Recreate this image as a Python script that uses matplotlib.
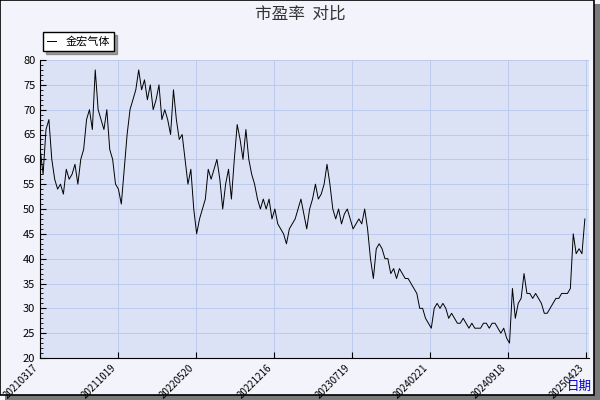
import matplotlib
matplotlib.use("Agg")
import matplotlib.pyplot as plt
from matplotlib.ticker import MultipleLocator
import numpy as np

plt.rcParams['font.family'] = ['Noto Sans CJK SC', 'DejaVu Sans']

pe_values = [62, 57, 66, 68, 60, 56, 54, 55, 53, 58, 56, 57, 59, 55, 60, 62, 68, 70, 66, 78,
             70, 68, 66, 70, 62, 60, 55, 54, 51, 58, 65, 70, 72, 74, 78, 74, 76, 72, 75, 70,
             72, 75, 68, 70, 68, 65, 74, 68, 64, 65, 60, 55, 58, 50, 45, 48, 50, 52, 58, 56,
             58, 60, 56, 50, 55, 58, 52, 60, 67, 64, 60, 66, 60, 57, 55, 52, 50, 52, 50, 52,
             48, 50, 47, 46, 45, 43, 46, 47, 48, 50, 52, 49, 46, 50, 52, 55, 52, 53, 55, 59,
             55, 50, 48, 50, 47, 49, 50, 48, 46, 47, 48, 47, 50, 46, 40, 36, 42, 43, 42, 40,
             40, 37, 38, 36, 38, 37, 36, 36, 35, 34, 33, 30, 30, 28, 27, 26, 30, 31, 30, 31,
             30, 28, 29, 28, 27, 27, 28, 27, 26, 27, 26, 26, 26, 27, 27, 26, 27, 27, 26, 25,
             26, 24, 23, 34, 28, 31, 32, 37, 33, 33, 32, 33, 32, 31, 29, 29, 30, 31, 32, 32,
             33, 33, 33, 34, 45, 41, 42, 41, 48]
date_labels = ['20210317', '20211019', '20220520', '20221216', '20230719',
               '20240221', '20240918', '20250423']

fig = plt.figure(figsize=(6, 4), dpi=100, facecolor='#f2f3fb')
fig.patches.append(plt.Rectangle((0.008, 0.0), 0.992, 0.99, transform=fig.transFigure,
                                 facecolor='#7a7a7a', zorder=-2))
fig.patches.append(plt.Rectangle((0.0, 0.012), 0.99, 0.988, transform=fig.transFigure,
                                 facecolor='#f2f3fb', edgecolor='black', lw=1.2, zorder=-1))
ax = fig.add_axes([0.067, 0.105, 0.915, 0.745])
ax.set_facecolor('#dbe2f6')

x = np.arange(len(pe_values))
ax.plot(x, pe_values, color='black', lw=0.7, label='金宏气体')

n = len(pe_values) - 1
step = n * 77 / 538
ticks = [i * step for i in range(len(date_labels))]
ax.set_xticks(ticks)
ax.set_xticklabels(date_labels, rotation=45, ha='right', fontsize=7)
ax.set_xlim(0, n + 1.5)
ax.set_ylim(20, 80)
ax.yaxis.set_major_locator(MultipleLocator(5))
ax.yaxis.set_minor_locator(MultipleLocator(1))
ax.tick_params(axis='y', labelsize=8, direction='in', length=4)
ax.tick_params(axis='y', which='minor', direction='in', length=2)
ax.tick_params(axis='x', direction='in', length=4)
ax.grid(True, color='#bccaee', lw=0.7)
for s in ['top', 'right']:
    ax.spines[s].set_visible(False)

fig.suptitle('市盈率  对比', fontsize=12, y=0.985, color='#333333')
leg = ax.legend(loc='lower left', bbox_to_anchor=(-0.005, 1.01), fontsize=8,
                frameon=True, fancybox=False, edgecolor='black', shadow=True,
                handlelength=0.8)
fig.text(0.945, 0.025, '日期', color='#0000cc', fontsize=9)

fig.savefig('out.png', dpi=100, facecolor=fig.get_facecolor())
